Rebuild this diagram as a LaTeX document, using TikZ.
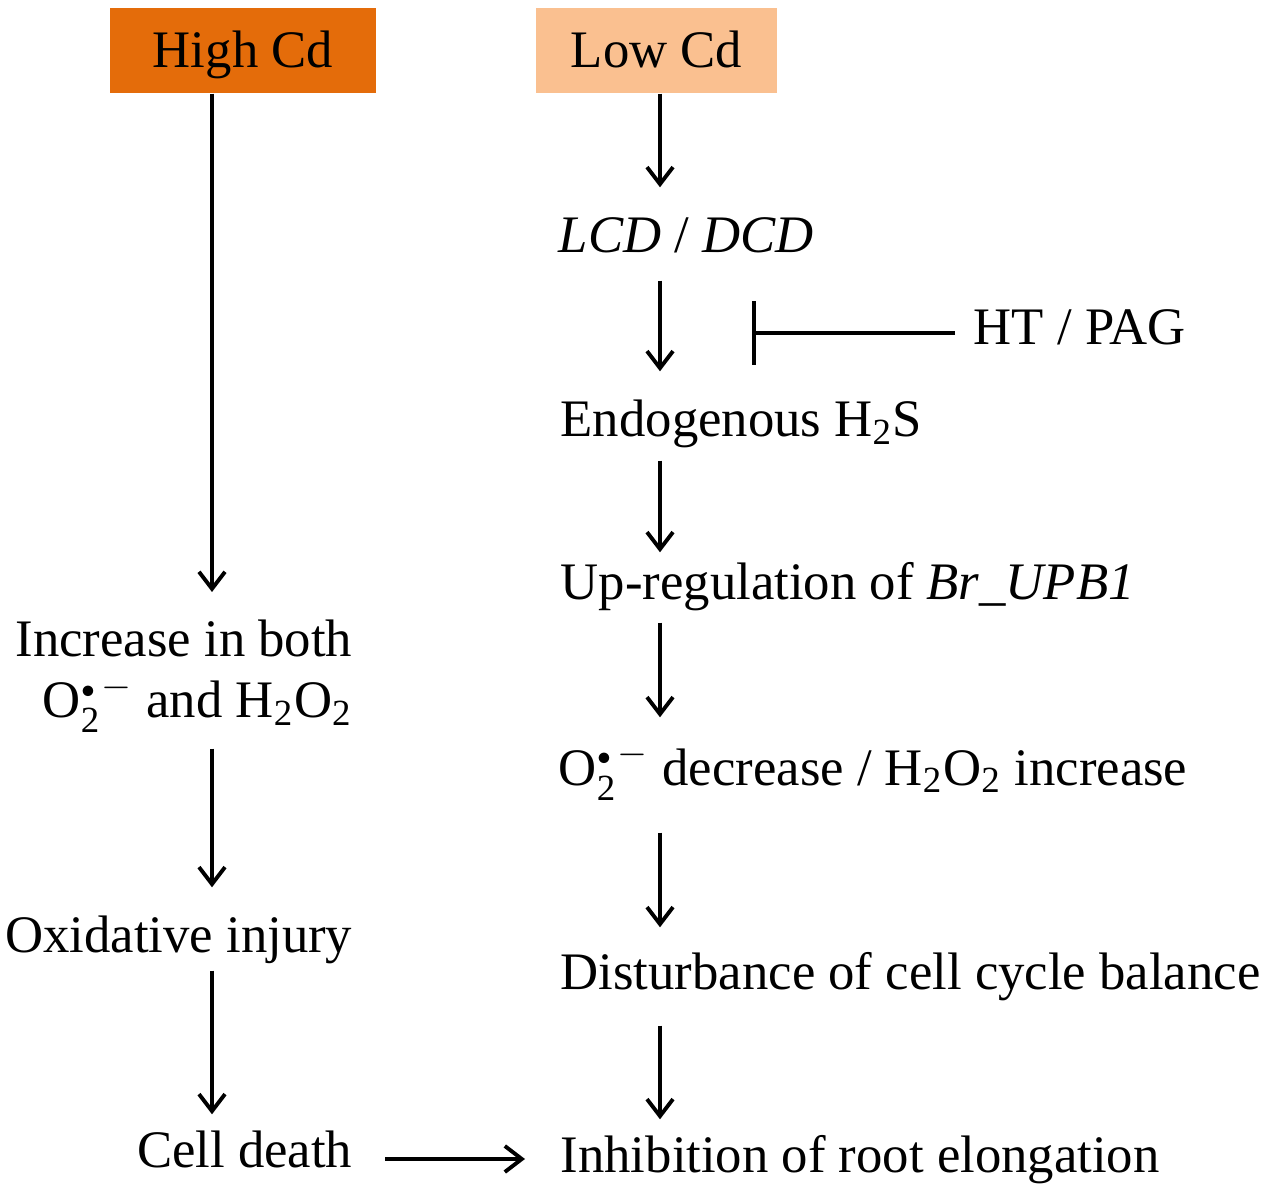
\documentclass[tikz,border=0pt]{standalone}
\usepackage{amsmath}
\usepackage{fontspec}
\setmainfont{Liberation Serif}
\usetikzlibrary{arrows.meta, positioning}
\definecolor{highcd}{HTML}{E46C0A}
\definecolor{lowcd}{HTML}{FAC090}
\newcommand{\supox}{O$_{\text{2}}^{{\scriptscriptstyle\bullet}\,-}$}
\newcommand{\perox}{H\textsubscript{2}O\textsubscript{2}}

\begin{document}
\begin{tikzpicture}[every node/.style={font=\fontsize{15}{16.5}\selectfont, inner sep=0pt},
	lbl/.style={text height=0.36cm, text depth=0.12cm},
	cdbox/.style={minimum height=0.85cm, text height=0.35cm, text depth=0cm},
	arr/.style={-{Straight Barb[length=0.17cm, width=0.26cm]}, line width=1.1pt},
	blk/.style={-{Bar[width=0.64cm]}, line width=1.1pt}]

	\useasboundingbox (0,0) rectangle (12.70,-11.93);

	\coordinate (lc) at (2.12,0);
	\coordinate (rc) at (6.60,0);
	\coordinate (tbar) at (7.52,-3.28);

	% left column
	\begin{scope}
		\node[cdbox, fill=highcd, minimum width=2.66cm] (high) at (2.43,-0.505) {High Cd};
		\node[align=right, anchor=north east] (inc) at (3.53,-6.19) {Increase in both\\[1pt] \supox{} and \perox};
		\node[lbl, anchor=base east] (oxi) at (3.53,-9.52) {Oxidative injury};
		\node[lbl, anchor=base east] (cell) at (3.53,-11.67) {Cell death};

		\draw[arr, shorten >=0.27cm] (high.south -| lc) -- (inc.north -| lc);
		\draw[arr, shorten <=0.15cm, shorten >=0.28cm] (inc.south -| lc) -- (oxi.north -| lc);
		\draw[arr, shorten <=0.06cm, shorten >=0.16cm] (oxi.south -| lc) -- (cell.north -| lc);
	\end{scope}

	% right column
	\begin{scope}
		\node[cdbox, fill=lowcd, minimum width=2.41cm] (low) at (6.565,-0.505) {Low Cd};
		\node[lbl, anchor=base west] (lcd) at (5.58,-2.53) {\textit{LCD} / \textit{DCD}};
		\node[lbl, anchor=base west] (endo) at (5.60,-4.37) {Endogenous H\textsubscript{2}S};
		\node[lbl, anchor=base west] (upreg) at (5.60,-6.00) {Up-regulation of \textit{Br\_UPB1}};
		\node[lbl, anchor=base west] (ros) at (5.58,-7.85) {\supox{} decrease / \perox{} increase};
		\node[lbl, anchor=base west] (dist) at (5.60,-9.89) {Disturbance of cell cycle balance};
		\node[lbl, anchor=base west] (inhib) at (5.60,-11.72) {Inhibition of root elongation};
		\node[lbl, anchor=base west] (ht) at (9.73,-3.45) {HT / PAG};

		\draw[arr, shorten >=0.29cm] (low.south -| rc) -- (lcd.north -| rc);
		\draw[arr, shorten <=0.15cm, shorten >=0.29cm] (lcd.south -| rc) -- (endo.north -| rc);
		\draw[arr, shorten <=0.11cm, shorten >=0.11cm] (endo.south -| rc) -- (upreg.north -| rc);
		\draw[arr, shorten <=0.10cm, shorten >=0.31cm] (upreg.south -| rc) -- (ros.north -| rc);
		\draw[arr, shorten <=0.35cm, shorten >=0.25cm] (ros.south -| rc) -- (dist.north -| rc);
		\draw[arr, shorten <=0.24cm, shorten >=0.16cm] (dist.south -| rc) -- (inhib.north -| rc);

		\draw[blk, shorten <=0.18cm] (ht.west) -- (ht.west -| tbar);
	\end{scope}

	\draw[arr, shorten <=0.32cm, shorten >=0.35cm] ([yshift=-0.04cm]cell.east) -- ([yshift=-0.04cm]cell.east -| inhib.west);
\end{tikzpicture}
\end{document}
